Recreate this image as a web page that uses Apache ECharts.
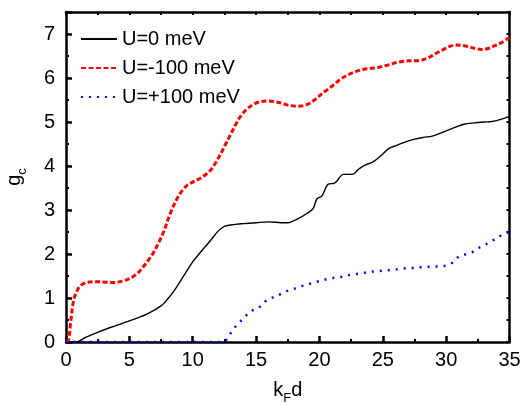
<!DOCTYPE html>
<html><head><meta charset="utf-8">
<script src="https://cdn.jsdelivr.net/npm/echarts@6/dist/echarts.min.js"></script>
<style>html,body{margin:0;padding:0;background:#fff}#c{width:523px;height:405px}</style>
</head><body><div id="c"></div>
<script>
// U=0 meV (black solid)
const xZero = [0, 0.8, 1.5, 2.5, 3.5, 4.5, 5.5, 6.5, 7.5, 8.0, 8.5, 9.0, 9.5, 10, 10.5, 11, 11.5, 12, 12.5, 13, 13.5, 14, 15, 16, 17, 17.5, 18, 18.5, 19, 19.5, 19.8, 20.2, 20.7, 21.2, 21.9, 22.6, 23.1, 23.6, 24.2, 24.8, 25.5, 26.1, 26.8, 27.5, 28.2, 28.9, 29.5, 30.1, 30.8, 31.4, 32.2, 33, 33.6, 34.3, 35];
const yZero = [0, 0, 0.1, 0.22, 0.33, 0.43, 0.53, 0.65, 0.82, 0.97, 1.15, 1.37, 1.6, 1.82, 2.0, 2.17, 2.34, 2.52, 2.63, 2.66, 2.68, 2.69, 2.71, 2.73, 2.71, 2.71, 2.76, 2.83, 2.92, 3.03, 3.25, 3.32, 3.59, 3.61, 3.81, 3.81, 3.93, 4.02, 4.09, 4.22, 4.4, 4.47, 4.55, 4.61, 4.65, 4.68, 4.74, 4.81, 4.89, 4.95, 4.98, 5.0, 5.01, 5.06, 5.13];
// U=-100 meV (red dashed)
const xNeg = [0, 0.2, 0.35, 0.6, 0.85, 1.1, 1.6, 2.4, 3.2, 3.8, 4.4, 5.0, 5.6, 6.1, 6.5, 6.9, 7.3, 7.7, 8.2, 8.75, 9.2, 9.6, 10.1, 10.6, 11.0, 11.4, 11.8, 12.2, 12.6, 13.0, 13.4, 13.8, 14.3, 14.8, 15.3, 15.9, 16.5, 17.0, 17.6, 18.2, 18.7, 19.2, 19.7, 20.1, 20.6, 21.1, 21.7, 22.3, 22.9, 23.5, 24.1, 24.6, 25.2, 25.8, 26.4, 27.0, 27.6, 28.1, 28.6, 29.2, 29.8, 30.3, 30.8, 31.3, 31.8, 32.3, 32.8, 33.3, 33.8, 34.4, 35];
const yNeg = [0, 0.05, 0.4, 0.95, 1.15, 1.27, 1.35, 1.37, 1.36, 1.35, 1.38, 1.44, 1.55, 1.71, 1.86, 2.03, 2.25, 2.5, 2.9, 3.25, 3.45, 3.57, 3.65, 3.72, 3.8, 3.9, 4.07, 4.27, 4.5, 4.72, 4.95, 5.14, 5.3, 5.4, 5.46, 5.48, 5.46, 5.43, 5.38, 5.36, 5.37, 5.42, 5.52, 5.62, 5.73, 5.84, 5.98, 6.08, 6.15, 6.2, 6.22, 6.24, 6.28, 6.33, 6.37, 6.39, 6.39, 6.41, 6.46, 6.56, 6.65, 6.72, 6.75, 6.74, 6.71, 6.67, 6.65, 6.67, 6.73, 6.81, 6.92];
// U=+100 meV (blue dotted)
const xPos = [0, 12.4, 12.8, 13.2, 13.6, 14.05, 14.5, 15.0, 15.45, 15.84, 16.2, 16.5, 17.0, 17.55, 18.1, 18.6, 19.2, 19.8, 20.6, 21.2, 21.9, 22.5, 23.2, 23.9, 24.6, 25.3, 26.0, 26.6, 27.3, 28.0, 28.7, 29.4, 30.0, 30.6, 31.0, 31.6, 32.1, 32.5, 33.0, 33.5, 34.0, 34.5, 35];
const yPos = [0, 0, 0.12, 0.29, 0.42, 0.55, 0.68, 0.76, 0.83, 0.95, 1.0, 1.03, 1.1, 1.17, 1.22, 1.27, 1.32, 1.37, 1.43, 1.46, 1.49, 1.53, 1.56, 1.59, 1.61, 1.63, 1.65, 1.67, 1.68, 1.7, 1.71, 1.72, 1.74, 1.82, 1.94, 2.0, 2.05, 2.13, 2.2, 2.28, 2.36, 2.45, 2.5];

const seriesNames = ['U=0 meV', 'U=-100 meV', 'U=+100 meV'];
const xTickLabels = ['0', '5', '10', '15', '20', '25', '30', '35'];
const yTickLabels = ['0', '1', '2', '3', '4', '5', '6', '7'];

const FONT = "'Liberation Sans', Arial, sans-serif";
const pairs = (xs, ys) => xs.map((x, i) => [x, ys[i]]);
const frame = { show: true, onZero: false, lineStyle: { color: '#000', width: 2.5 } };
const gridBox = { left: 66, right: 13.5, top: 12, bottom: 63, outerBoundsMode: 'none', containLabel: false };
const subRich = {
  n: { fontSize: 20, fontFamily: FONT, color: '#000', padding: [0, 0, 5, 0], verticalAlign: 'bottom' },
  s: { fontSize: 13, fontFamily: FONT, color: '#000', verticalAlign: 'bottom' }
};

const chart = echarts.init(document.getElementById('c'), null, { renderer: 'canvas' });
chart.setOption({
  animation: false,
  backgroundColor: '#fff',
  grid: [Object.assign({}, gridBox), Object.assign({}, gridBox)],
  legend: {
    orient: 'vertical', left: 80, top: 29, padding: 0,
    itemWidth: 36, itemHeight: 14, itemGap: 9,
    itemStyle: { opacity: 0 },
    textStyle: { fontSize: 20, color: '#000', fontFamily: FONT, lineHeight: 20 },
    data: seriesNames
  },
  xAxis: [
    {
      gridIndex: 0, type: 'value', position: 'bottom', min: 0, max: 35, interval: 5,
      axisLine: frame,
      axisTick: { show: true, inside: true, length: 6, lineStyle: { width: 2.5, color: '#000' } },
      minorTick: { show: true, splitNumber: 2, length: 3, lineStyle: { width: 2, color: '#000' } },
      axisLabel: { fontSize: 20, color: '#000', fontFamily: FONT, margin: 8,
        formatter: v => xTickLabels.includes(String(v)) ? String(v) : '' },
      splitLine: { show: false }, minorSplitLine: { show: false },
      name: '{n|k}{s|F}{n|d}', nameLocation: 'middle', nameGap: 38,
      nameTextStyle: { fontFamily: FONT, color: '#000', rich: subRich }
    },
    {
      gridIndex: 0, type: 'value', position: 'top', min: 0, max: 35, interval: 2.5,
      axisLine: frame,
      axisTick: { show: true, inside: true, length: 3, lineStyle: { width: 2, color: '#000' } },
      axisLabel: { show: false }, splitLine: { show: false }
    },
    {
      gridIndex: 1, type: 'value', position: 'bottom', min: 0, max: 35, show: false
    }
  ],
  yAxis: [
    {
      gridIndex: 0, type: 'value', position: 'left', min: 0, max: 7.5, interval: 1,
      axisLine: frame,
      axisTick: { show: true, inside: true, length: 6, lineStyle: { width: 2.5, color: '#000' } },
      axisLabel: { fontSize: 20, color: '#000', fontFamily: FONT, margin: 11,
        formatter: v => yTickLabels.includes(String(v)) ? String(v) : '' },
      splitLine: { show: false },
      name: '{n|g}{s|c}', nameLocation: 'middle', nameGap: 37,
      nameTextStyle: { fontFamily: FONT, color: '#000', rich: subRich }
    },
    {
      gridIndex: 0, type: 'value', position: 'right', min: 0, max: 7.5, interval: 0.5,
      axisLine: frame,
      axisTick: { show: true, inside: true, length: 3, lineStyle: { width: 2, color: '#000' } },
      axisLabel: { show: false }, splitLine: { show: false }
    },
    {
      gridIndex: 1, type: 'value', position: 'left', min: 0, max: 7.5, interval: 0.5,
      axisLine: { show: false, onZero: false },
      axisTick: { show: true, inside: true, length: 3, lineStyle: { width: 2, color: '#000' } },
      axisLabel: { show: false }, splitLine: { show: false }
    }
  ],
  series: [
    {
      name: seriesNames[0], type: 'line', xAxisIndex: 0, yAxisIndex: 0, data: pairs(xZero, yZero),
      showSymbol: false, symbol: 'none', smooth: 0.35, clip: false,
      lineStyle: { color: '#000', width: 1.4 }, itemStyle: { color: '#000' }, z: 3
    },
    {
      name: seriesNames[1], type: 'line', xAxisIndex: 0, yAxisIndex: 0, data: pairs(xNeg, yNeg),
      showSymbol: false, symbol: 'none', smooth: 0.35, clip: false,
      lineStyle: { color: '#ff0000', width: 3, type: [5, 2.5] }, itemStyle: { color: '#ff0000' }, z: 4
    },
    {
      name: seriesNames[2], type: 'line', xAxisIndex: 0, yAxisIndex: 0, data: pairs(xPos, yPos),
      showSymbol: false, symbol: 'none', smooth: 0.35, clip: false,
      lineStyle: { color: '#0000ff', width: 2.5, type: [2, 6] }, itemStyle: { color: '#0000ff' }, z: 5
    }
  ]
});
</script>
</body></html>
